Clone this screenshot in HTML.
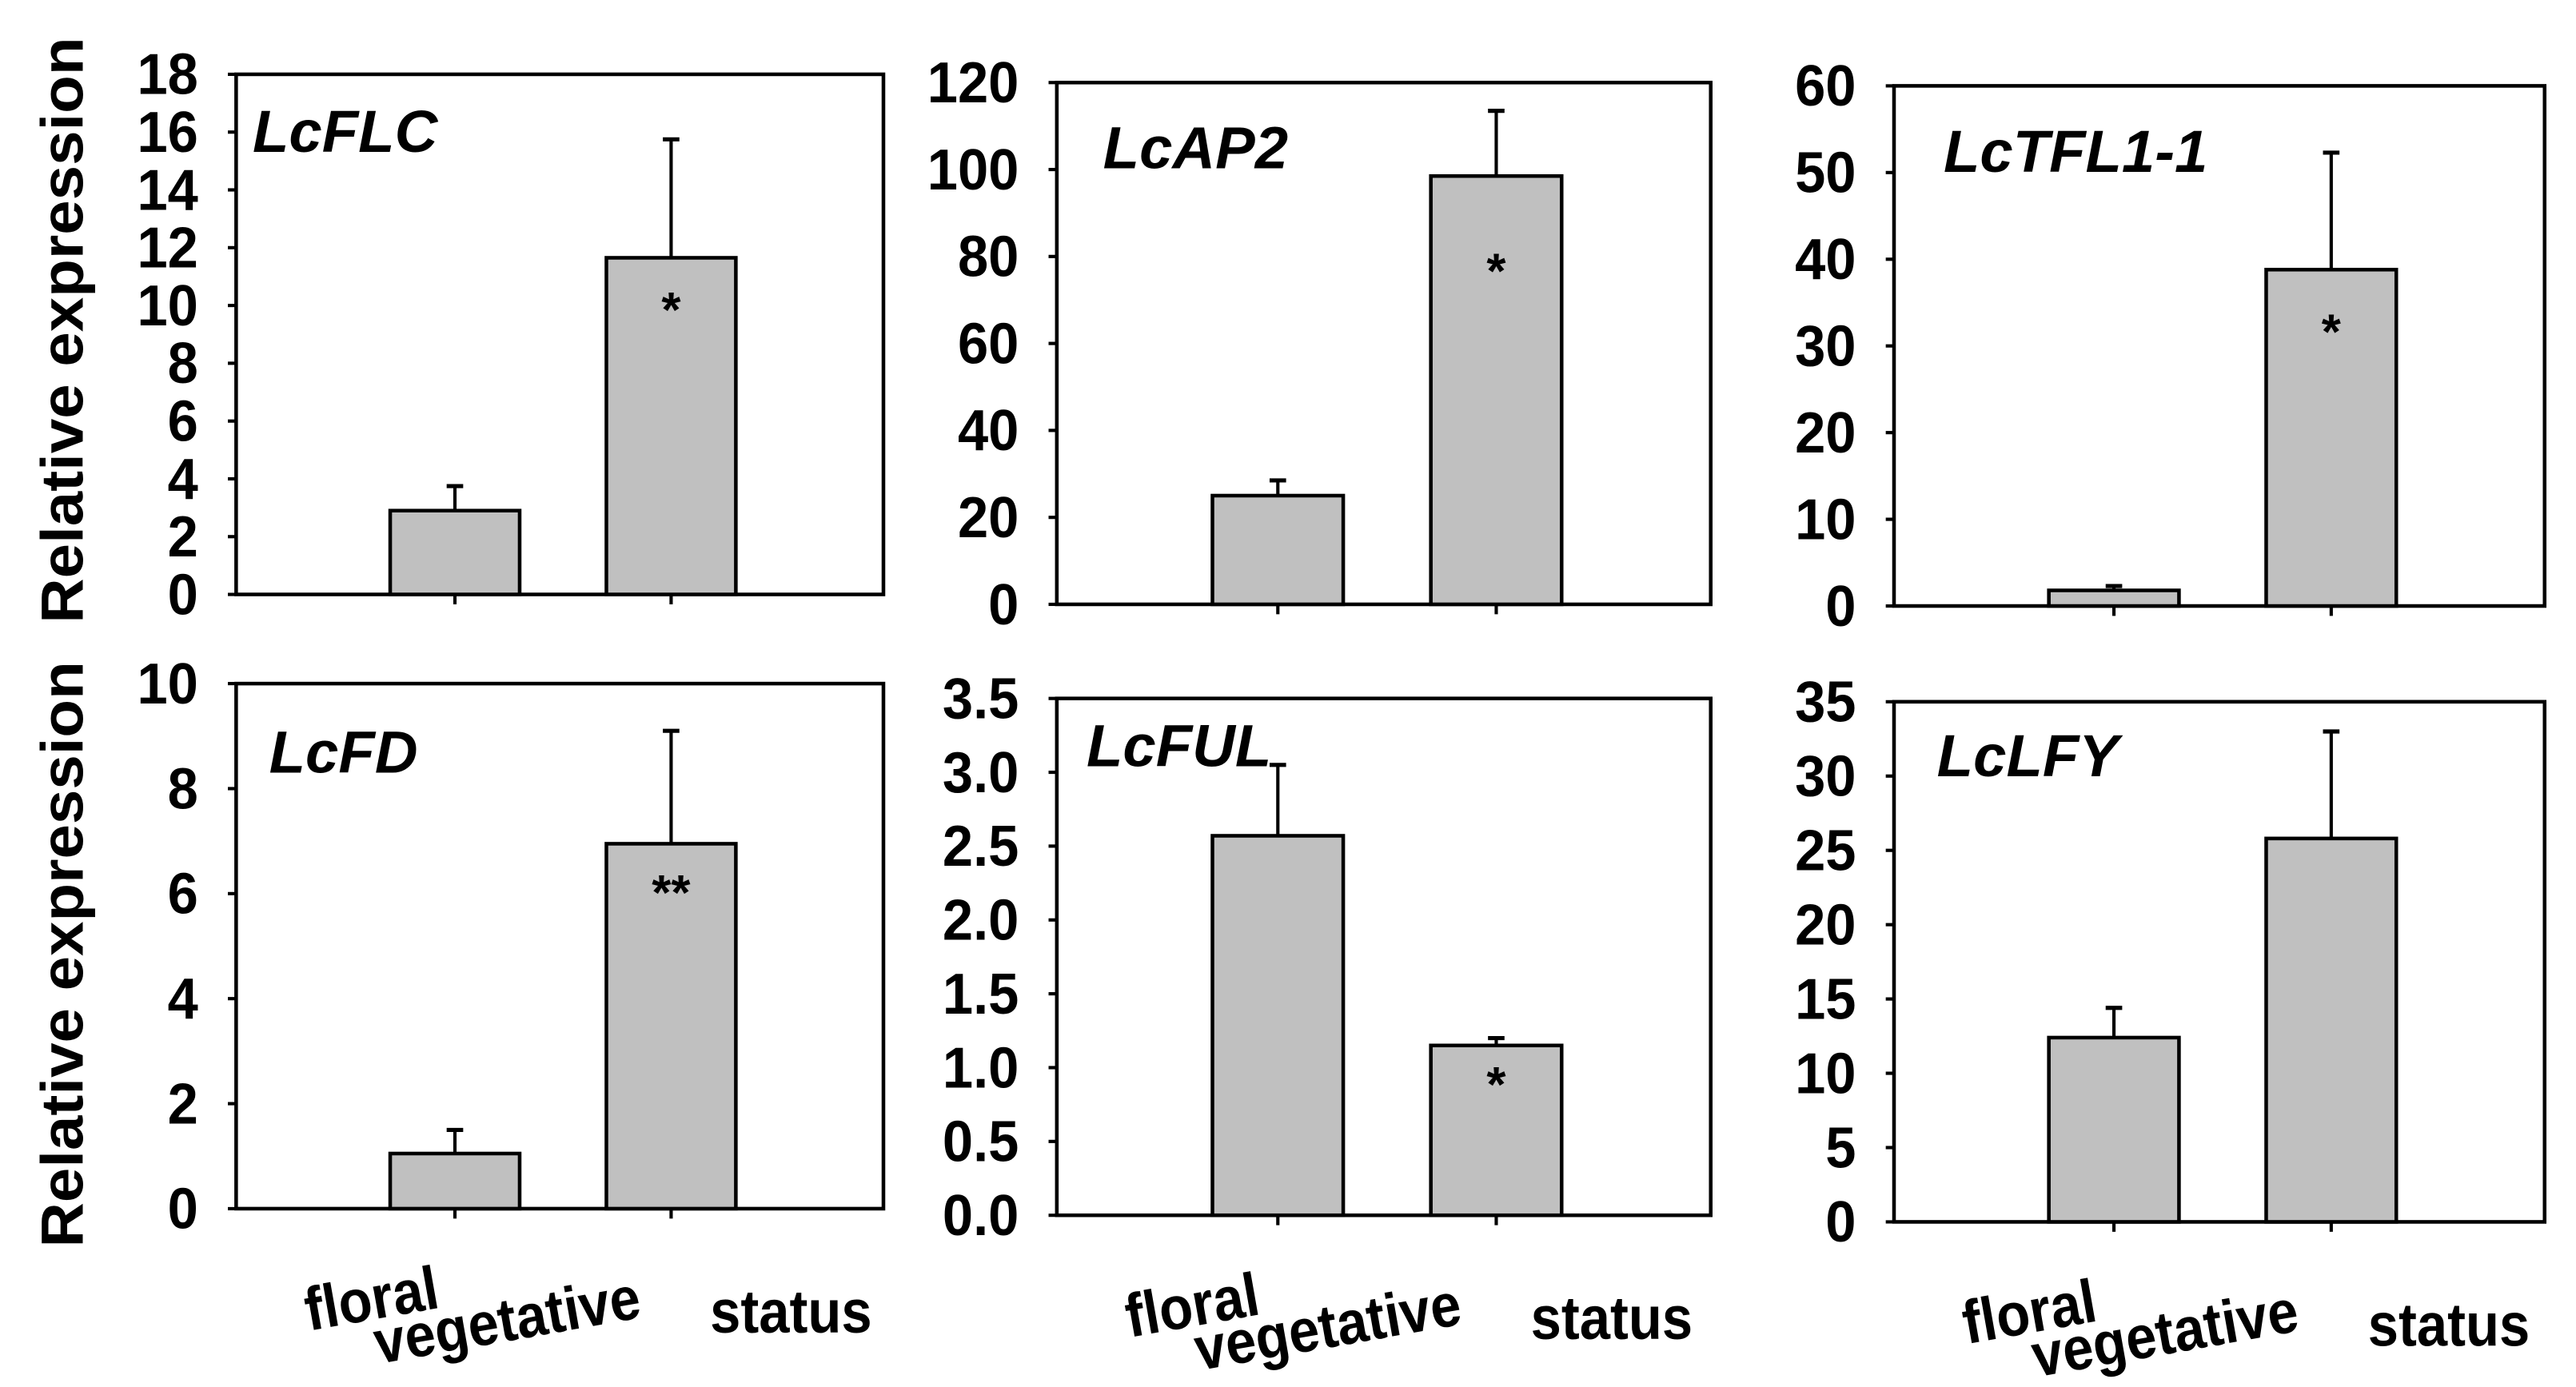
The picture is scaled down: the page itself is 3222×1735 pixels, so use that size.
<!DOCTYPE html>
<html><head><meta charset="utf-8"><style>
html,body{margin:0;padding:0;background:#fff;}
svg{display:block;font-family:"Liberation Sans",Arial,sans-serif;}
</style></head><body>
<svg id="chart" width="3222" height="1735" viewBox="0 0 1560 840" preserveAspectRatio="none" xmlns="http://www.w3.org/2000/svg">
<text transform="translate(50,200) rotate(-90)" text-anchor="middle" font-size="36" font-weight="bold" textLength="355" lengthAdjust="spacingAndGlyphs">Relative expression</text>
<text transform="translate(50,578) rotate(-90)" text-anchor="middle" font-size="36" font-weight="bold" textLength="355" lengthAdjust="spacingAndGlyphs">Relative expression</text>
</svg>
<script>
const genes = ["LcFLC","LcAP2","LcTFL1-1","LcFD","LcFUL","LcLFY"];
const categories = ["floral","vegetative"];
const floralValues = [2.9, 25, 1.8, 1.05, 2.57, 12.4];
const floralErrors = [0.85, 3.5, 0.5, 0.45, 0.48, 2.0];
const vegValues = [11.65, 98.5, 38.8, 6.95, 1.15, 25.8];
const vegErrors = [4.1, 15, 13.5, 2.15, 0.05, 7.2];
const significance = ["*","*","*","**","*",""];
const yMax = [18, 120, 60, 10, 3.5, 35];
const yStep = [2, 20, 10, 2, 0.5, 5];
const tickDecimals = [0,0,0,0,1,0];

const layout = [
 {l:143,r:535,t:45,b:360,tx:153,ty:92,so:42},
 {l:640,r:1036,t:50,b:366,tx:668,ty:102,so:68},
 {l:1147,r:1541,t:52,b:367,tx:1177,ty:104,so:48},
 {l:143,r:535,t:414,b:732,tx:163,ty:468,so:40},
 {l:640,r:1036,t:423,b:736,tx:658,ty:464,so:34},
 {l:1147,r:1541,t:425,b:740,tx:1173,ty:470,so:40}
];
const svg = document.getElementById('chart');
const NS = "http://www.w3.org/2000/svg";
function mk(tag, attrs, parent){
  const e = document.createElementNS(NS, tag);
  for (const k in attrs) e.setAttribute(k, attrs[k]);
  (parent||svg).appendChild(e);
  return e;
}
genes.forEach((g,i)=>{
  const L = layout[i];
  const grp = mk('g',{});
  
  
  const y = v => L.b - v / yMax[i] * (L.b - L.t);
  const w = L.r - L.l;
  const x = k => L.l + w * (k === 0 ? 0.338 : 0.672);
  const bw = w * 0.2;
  const fr = mk('rect',{x:L.l,y:L.t,width:w,height:L.b-L.t,fill:'none',stroke:'#000','stroke-width':2.2},grp);
  
  
  for (let v=0; v<=yMax[i]+1e-9; v+=yStep[i]) {
    mk('line',{x1:L.l-5,x2:L.l,y1:y(v),y2:y(v),stroke:'#000','stroke-width':2},grp);
    const t = mk('text',{transform:`translate(${L.l-23},${y(v)+12}) scale(0.95,1)`,'text-anchor':'end','font-size':35,'font-weight':'bold'},grp);
    
    
    t.textContent = v.toFixed(tickDecimals[i]);
  }
  [0,1].forEach(k=>mk('line',{x1:x(k),x2:x(k),y1:L.b,y2:L.b+6,stroke:'#000','stroke-width':2},grp));
  const vals = [floralValues[i], vegValues[i]];
  const errs = [floralErrors[i], vegErrors[i]];
  vals.forEach((v,k)=>{
    const top = y(v+errs[k]);
    mk('line',{x1:x(k),x2:x(k),y1:y(v),y2:top,stroke:'#000','stroke-width':2},grp);
    mk('line',{x1:x(k)-5,x2:x(k)+5,y1:top,y2:top,stroke:'#000','stroke-width':2.5},grp);
    const b = mk('rect',{x:x(k)-bw/2,y:y(v),width:bw,height:L.b-y(v),fill:'#c0c0c0',stroke:'#000','stroke-width':2.2},grp);
    
    
  });
  if (significance[i]) {
    const s = mk('text',{x:x(1),y:y(vegValues[i])+L.so,'text-anchor':'middle','font-size':30,'font-weight':'bold'},grp);
    
    
    s.textContent = significance[i];
  }
  const tt = mk('text',{x:L.tx,y:L.ty,'font-size':36,'font-weight':'bold','font-style':'italic'},grp);
  
  
  tt.textContent = g;
  if (i >= 3) {
    const f = mk('text',{transform:`translate(${L.l+44},${L.b+74}) rotate(-10) scale(0.9,1)`,'font-size':37,'font-weight':'bold'},grp);
    
    
    f.textContent = 'floral';
    const vg = mk('text',{transform:`translate(${L.l+86},${L.b+94}) rotate(-10) scale(0.9,1)`,'font-size':37,'font-weight':'bold'},grp);
    
    
    vg.textContent = 'vegetative';
    const st = mk('text',{transform:`translate(${L.l+287},${L.b+75}) scale(0.9,1)`,'font-size':37,'font-weight':'bold'},grp);
    
    
    st.textContent = 'status';
  }
});
</script>
</body></html>
